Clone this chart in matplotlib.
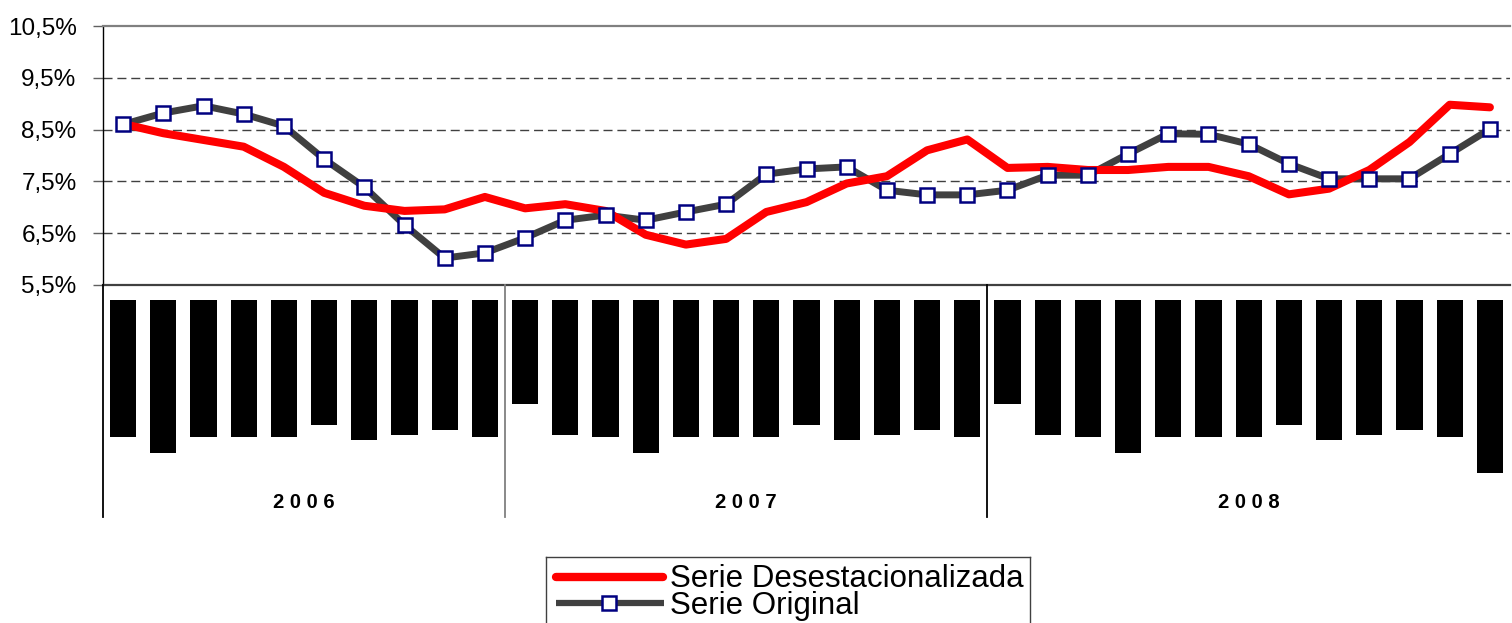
import numpy as np
import matplotlib.pyplot as plt
from matplotlib.ticker import FixedLocator, FuncFormatter

plt.rcParams['font.family'] = ['Liberation Sans', 'DejaVu Sans']

# Datos mensuales (mar-2006 a ene-2009), en %
serie_original = [8.60, 8.82, 8.96, 8.80, 8.57, 7.93, 7.39, 6.66, 6.02, 6.12,
                  6.41, 6.75, 6.85, 6.75, 6.91, 7.06, 7.64, 7.74, 7.78, 7.33, 7.24, 7.24,
                  7.33, 7.62, 7.62, 8.03, 8.42, 8.41, 8.22, 7.84, 7.55, 7.55, 7.55, 8.03, 8.51]
serie_desest = [8.61, 8.43, 8.30, 8.17, 7.78, 7.28, 7.03, 6.93, 6.96, 7.20,
                6.98, 7.06, 6.93, 6.47, 6.28, 6.39, 6.91, 7.10, 7.46, 7.60, 8.10, 8.31,
                7.76, 7.78, 7.72, 7.72, 7.78, 7.78, 7.60, 7.25, 7.36, 7.72, 8.26, 8.98, 8.93]

# largo (px) de las etiquetas de mes, que salen como bloques negros
largo_etiquetas = [137, 153, 137, 137, 137, 125, 140, 135, 130, 137,
                   104, 135, 137, 153, 137, 137, 137, 125, 140, 135, 130, 137,
                   104, 135, 137, 153, 137, 137, 137, 125, 140, 135, 130, 137, 173]

anios = ["2006", "2007", "2008"]
meses_por_anio = [10, 12, 13]

y_ticks = [5.5, 6.5, 7.5, 8.5, 9.5, 10.5]

W, H = 1512, 623


def caja(l, t, r, b):
    return [l / W, 1 - b / H, (r - l) / W, (b - t) / H]


fig = plt.figure(figsize=(W / 100, H / 100), dpi=100)
ax = fig.add_axes(caja(103, 26, 1510, 285))
ax_lab = fig.add_axes(caja(103, 285, 1510, 517))

x = np.arange(len(serie_original))

# grafico principal
ax.plot(x, serie_original, color='#404040', lw=5, zorder=3, solid_capstyle='butt')
ax.plot(x, serie_desest, color='#ff0000', lw=5.8, zorder=4, solid_capstyle='round')
ax.plot(x, serie_original, ls='none', marker='s', ms=10, mfc='white',
        mec='#000080', mew=1.8, zorder=5)

ax.set_xlim(-0.5, len(x) - 0.5)
ax.set_ylim(5.5, 10.5)
ax.yaxis.set_major_locator(FixedLocator(y_ticks))
ax.yaxis.set_major_formatter(FuncFormatter(lambda v, p: f"{v:.1f}".replace(".", ",") + "%"))
ax.set_xticks([])
ax.tick_params(axis='y', length=7, width=1, color='#606060', pad=12, labelsize=17.5)
for v in y_ticks[1:-1]:
    ax.axhline(v, color='#404040', lw=1, ls=(0, (6.5, 3.5)), zorder=1)

ax.spines['right'].set_visible(False)
ax.spines['top'].set_color('#808080')
ax.spines['top'].set_linewidth(1.6)
ax.spines['bottom'].set_color('#404040')
ax.spines['bottom'].set_linewidth(1.6)
ax.spines['left'].set_color('black')
ax.spines['left'].set_linewidth(1)

# zona de etiquetas de meses y anios
ax_lab.set_xlim(-0.5, len(x) - 0.5)
ax_lab.set_ylim(232, 0)
ax_lab.axis('off')
ax_lab.bar(x, largo_etiquetas, bottom=15, width=0.65, color='black')

inicio = -0.5
for i, (anio, n) in enumerate(zip(anios, meses_por_anio)):
    col = '#808080' if i == 1 else 'black'
    ax_lab.axvline(inicio, color=col, lw=1.3, clip_on=False)
    ax_lab.text(inicio + n / 2, 223, " ".join(anio), ha='center', va='baseline',
                fontsize=14.5, fontweight='bold')
    inicio += n

# leyenda
lg = fig.add_axes(caja(546, 557, 1030, 640))
lg.set_xlim(546, 1030)
lg.set_ylim(640, 557)
lg.set_xticks([])
lg.set_yticks([])
for s in lg.spines.values():
    s.set_color('#404040')
    s.set_linewidth(1)
lg.plot([556, 663], [577, 577], color='#ff0000', lw=6, solid_capstyle='round')
lg.plot([556, 664], [603, 603], color='#404040', lw=4.5, solid_capstyle='butt')
lg.plot([609], [603], ls='none', marker='s', ms=10, mfc='white', mec='#000080', mew=1.8)
lg.text(670, 587, "Serie Desestacionalizada", fontsize=22.5, va='baseline')
lg.text(670, 614, "Serie Original", fontsize=22.5, va='baseline')

fig.savefig("out.png", dpi=100)
